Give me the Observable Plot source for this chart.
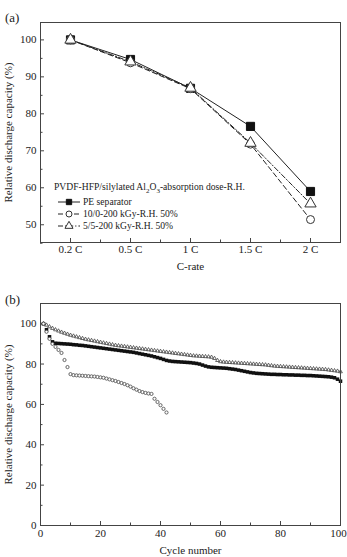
<!DOCTYPE html>
<html>
<head>
<meta charset="utf-8">
<script src="https://cdn.jsdelivr.net/npm/d3@7"></script>
<script src="https://cdn.jsdelivr.net/npm/@observablehq/plot@0.6"></script>
<style>
  body { margin: 0; background: #fff; }
  #chart { position: relative; width: 347px; height: 557px; font-family: "Liberation Serif", "Times New Roman", serif; color: #222; overflow: hidden; }
  #chart svg { position: absolute; left: 0; }
  .tag { position: absolute; left: 5px; font-size: 13px; line-height: 13px; }
</style>
</head>
<body>
<div id="chart">
  <div class="tag" style="top:11px">(a)</div>
  <div class="tag" style="top:293px">(b)</div>
</div>
<script>
// ---- (a) rate capability ----
const rates = ["0.2 C", "0.5 C", "1 C", "1.5 C", "2 C"];
const rateTicksY = [50, 60, 70, 80, 90, 100];
const ratePE = [100, 94.7, 86.9, 76.6, 59.0];
const rate100 = [100, 93.8, 86.8, 71.8, 51.4];
const rate55 = [100, 94.1, 87.0, 72.1, 55.7];
const seriesNames = ["PE separator", "10/0-200 kGy-R.H. 50%", "5/5-200 kGy-R.H. 50%"];
const legendTitle = ["PVDF-HFP/silylated Al", "2", "O", "3", "-absorption dose-R.H."];

// ---- (b) cycling at each cycle number ----
const cycleTicks = [0, 20, 40, 60, 80, 100];
const capTicks = [0, 20, 40, 60, 80, 100];
const cyclePE = [
  100, 97, 93.5, 91, 90.3, 90.2, 90.1, 90, 89.9, 89.8,
  89.6, 89.5, 89.3, 89.2, 89, 88.8, 88.6, 88.4, 88.2, 88,
  87.8, 87.6, 87.4, 87.2, 87, 86.8, 86.6, 86.4, 86.2, 86,
  85.8, 85.5, 85.2, 84.9, 84.6, 84.3, 84, 83.6, 83.2, 82.8,
  82.3, 81.8, 81.5, 81.3, 81.2, 81.1, 81, 80.9, 80.8, 80.7,
  80.5, 80.3, 80, 79.5, 79, 78.6, 78.4, 78.3, 78.2, 78.1,
  78, 77.9, 77.7, 77.5, 77.3, 77, 76.7, 76.4, 76.1, 75.8,
  75.6, 75.4, 75.3, 75.2, 75.1, 75, 74.9, 74.9, 74.8, 74.8,
  74.7, 74.7, 74.6, 74.6, 74.5, 74.5, 74.4, 74.4, 74.3, 74.3,
  74.2, 74.1, 74, 73.9, 73.8, 73.7, 73.5, 73.2, 72.5, 71.5
];
const cycle100 = [
  100, 96, 92.5, 90, 88.5, 87, 85.5, 82, 78.5, 75,
  74.5, 74.4, 74.3, 74.2, 74.1, 74, 73.9, 73.8, 73.6, 73.4,
  73.2, 72.8, 72.4, 72, 71.6, 71.1, 70.6, 70.1, 69.5, 68.8,
  68, 67.3, 66.6, 66.1, 65.7, 65.4, 65.2, 62.8, 61.2, 59.6,
  57.8, 56
];
const cycle55 = [
  100, 99.3, 98.5, 97.7, 97, 96.4, 95.8, 95.3, 94.8, 94.3,
  93.9, 93.5, 93.1, 92.7, 92.3, 92, 91.7, 91.4, 91.1, 90.8,
  90.5, 90.2, 89.9, 89.6, 89.3, 89.1, 88.9, 88.7, 88.5, 88.3,
  88.1, 87.9, 87.7, 87.5, 87.3, 87.1, 86.9, 86.7, 86.5, 86.3,
  86.1, 85.9, 85.7, 85.5, 85.3, 85.1, 84.9, 84.7, 84.5, 84.3,
  84.1, 84, 83.9, 83.8, 83.7, 83.6, 83.4, 82.8, 81.8, 81.2,
  81, 80.9, 80.8, 80.7, 80.6, 80.5, 80.4, 80.3, 80.2, 80.1,
  80, 79.9, 79.8, 79.7, 79.6, 79.4, 79.2, 79, 78.9, 78.8,
  78.7, 78.6, 78.5, 78.4, 78.3, 78.2, 78.1, 78, 77.9, 77.8,
  77.7, 77.6, 77.5, 77.4, 77.3, 77.1, 76.9, 76.7, 76.5, 76.2
];

const INK = "#222";
const FRAME = "#444";
const font = {fontFamily: "'Liberation Serif', 'Times New Roman', serif", fontSize: "11px", color: INK, background: "transparent", overflow: "visible"};

// one drawing style per separator
const looks = [
  {dash: null, symbol: "square", fill: "#111", stroke: "#111", rA: 4.6, rB: 2.0},
  {dash: "5,3", symbol: "circle", fill: "white", stroke: "#333", rA: 4.0, rB: 1.6},
  {dash: "5,2,1.2,2", symbol: "triangle", fill: "white", stroke: "#333", rA: 4.2, rB: 1.4}
];

const chart = document.getElementById("chart");

// ---------- panel (a) ----------
const W = 347, mL = 40, mR = 7;
const innerW = W - mL - mR;
const hA = 280, mTA = 22, mBA = 38, innerHA = hA - mTA - mBA;
const rateSeries = [ratePE, rate100, rate55].map((vals, s) =>
  vals.map((v, i) => ({s, name: seriesNames[s], i, v})));

const plotA = Plot.plot({
  width: W, height: hA,
  marginLeft: mL, marginRight: mR, marginTop: mTA, marginBottom: mBA,
  style: font,
  x: {domain: [-0.5, rates.length - 0.5]},
  y: {domain: [45.2, 104.7]},
  marks: [
    Plot.tickX(d3.range(rates.length), {x: d => d, insetTop: innerHA - 4, stroke: FRAME}),
    Plot.tickX(d3.range(rates.length - 1).map(i => i + 0.5), {x: d => d, insetTop: innerHA - 2.5, stroke: FRAME}),
    Plot.tickY(rateTicksY, {y: d => d, insetRight: innerW - 4, stroke: FRAME}),
    Plot.tickY(rateTicksY.map(t => t - 5), {y: d => d, insetRight: innerW - 2.5, stroke: FRAME}),
    Plot.axisX({ticks: d3.range(rates.length), tickFormat: i => rates[i], tickSize: 0, tickPadding: 3, label: null}),
    Plot.axisY({ticks: rateTicksY, tickSize: 0, tickPadding: 4, label: null}),
    Plot.text(["C-rate"], {frameAnchor: "bottom", dy: 24, text: d => d, lineAnchor: "middle", fontSize: 11}),
    Plot.text(["Relative discharge capacity (%)"], {frameAnchor: "left", dx: -32, rotate: -90, textAnchor: "middle", lineAnchor: "middle", text: d => d, fontSize: 11}),
    ...rateSeries.map((rows, s) => Plot.line(rows, {x: "i", y: "v", stroke: "#222", strokeWidth: 1, strokeDasharray: looks[s].dash})),
    ...rateSeries.map((rows, s) => Plot.dot(rows, {x: "i", y: "v", symbol: () => looks[s].symbol, r: looks[s].rA, fill: looks[s].fill, stroke: looks[s].stroke, strokeWidth: 1})),
    Plot.frame({stroke: FRAME})
  ]
});
plotA.style.top = "0px";
chart.appendChild(plotA);

// legend for panel (a)
const lg = d3.select(plotA).append("g")
  .attr("font-size", 9.6).attr("fill", INK).attr("text-anchor", "start");
const title = lg.append("text").attr("x", 54).attr("y", 190);
legendTitle.forEach((t, k) => {
  const sub = k === 1 || k === 3;
  title.append("tspan").text(t)
    .attr("font-size", sub ? 7 : null)
    .attr("dy", sub ? 2.5 : (k > 0 ? -2.5 : 0));
});
seriesNames.forEach((name, s) => {
  const y = 202 + s * 12;
  lg.append("line").attr("x1", 58).attr("x2", 80).attr("y1", y).attr("y2", y)
    .attr("stroke", "#222").attr("stroke-dasharray", looks[s].dash);
  const sym = {square: d3.symbolSquare, circle: d3.symbolCircle, triangle: d3.symbolTriangle}[looks[s].symbol];
  lg.append("path").attr("d", d3.symbol(sym, Math.PI * 3 * 3)())
    .attr("transform", `translate(69,${y})`)
    .attr("fill", looks[s].fill).attr("stroke", looks[s].stroke);
  lg.append("text").attr("x", 83).attr("y", y + 3.4).text(name);
});

// ---------- panel (b) ----------
const hB = 267, mTB = 13, mBB = 32, innerHB = hB - mTB - mBB;
const cycleSeries = [cyclePE, cycle100, cycle55].map((vals, s) =>
  vals.map((v, i) => ({s, c: i + 1, v})));
const drawOrder = [0, 2, 1];

const plotB = Plot.plot({
  width: W, height: hB,
  marginLeft: mL, marginRight: mR, marginTop: mTB, marginBottom: mBB,
  style: font,
  x: {domain: [0, 100]},
  y: {domain: [0, 110]},
  marks: [
    Plot.tickX(cycleTicks, {x: d => d, insetTop: innerHB - 4, stroke: FRAME}),
    Plot.tickX(cycleTicks.slice(0, -1).map(t => t + 10), {x: d => d, insetTop: innerHB - 2.5, stroke: FRAME}),
    Plot.tickY(capTicks, {y: d => d, insetRight: innerW - 4, stroke: FRAME}),
    Plot.tickY(capTicks.map(t => t + 10), {y: d => d, insetRight: innerW - 2.5, stroke: FRAME}),
    Plot.axisX({ticks: cycleTicks.slice(0, -1), tickSize: 0, tickPadding: 4, label: null}),
    // last label nudged inward so it stays inside the page edge
    Plot.axisX({ticks: cycleTicks.slice(-1), tickSize: 0, tickPadding: 4, dx: -2, label: null}),
    Plot.axisY({ticks: capTicks, tickSize: 0, tickPadding: 4, label: null}),
    Plot.text(["Cycle number"], {frameAnchor: "bottom", dy: 25, text: d => d, lineAnchor: "middle", fontSize: 11}),
    Plot.text(["Relative discharge capacity (%)"], {frameAnchor: "left", dx: -32, rotate: -90, textAnchor: "middle", lineAnchor: "middle", text: d => d, fontSize: 11}),
    ...drawOrder.map(s => Plot.dot(cycleSeries[s], {
      x: "c", y: "v", symbol: () => looks[s].symbol, r: looks[s].rB,
      fill: s === 0 ? "#111" : (s === 1 ? "white" : "none"),
      stroke: s === 0 ? "none" : "#444", strokeWidth: 0.8
    })),
    Plot.frame({stroke: FRAME})
  ]
});
plotB.style.top = "290px";
chart.appendChild(plotB);
</script>
</body>
</html>
